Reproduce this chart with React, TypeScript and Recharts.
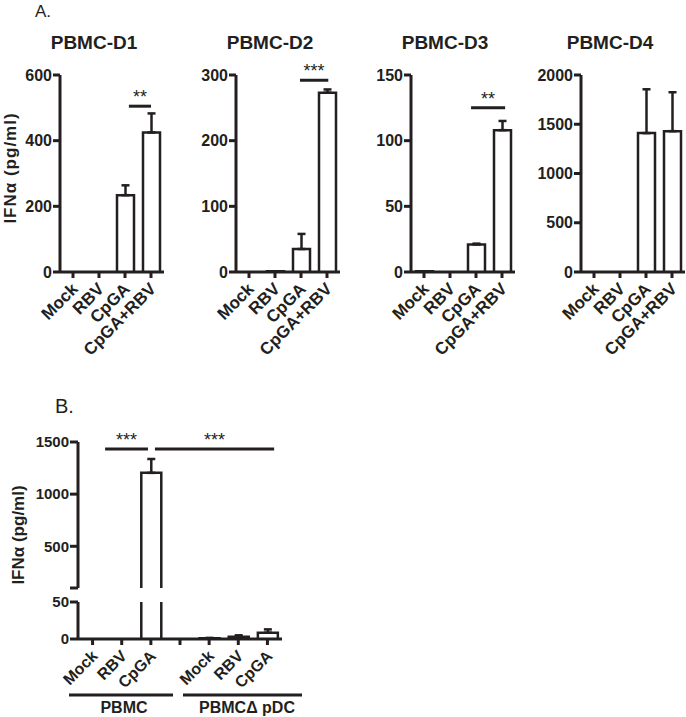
import React from 'react';
import { BarChart, Bar, XAxis, YAxis, ErrorBar, ReferenceLine, Label } from 'recharts';

// ---------------- DATA ----------------
const categoriesA = ['Mock', 'RBV', 'CpGA', 'CpGA+RBV'];
const panelTitles = ['PBMC-D1', 'PBMC-D2', 'PBMC-D3', 'PBMC-D4'];

const d1Values = [0, 0, 234, 425];
const d1Errors = [0, 0, 30, 58];
const d1Ticks = [0, 200, 400, 600];

const d2Values = [0, 1, 35, 273];
const d2Errors = [0, 0, 23, 5];
const d2Ticks = [0, 100, 200, 300];

const d3Values = [0.6, 0, 21, 108];
const d3Errors = [0, 0, 0.6, 7];
const d3Ticks = [0, 50, 100, 150];

const d4Values = [0, 0, 1410, 1430];
const d4Errors = [0, 0, 445, 395];
const d4Ticks = [0, 500, 1000, 1500, 2000];

// significance bars: [from (category units), to (category units), level, stars]
const d1Sig = [[2.65, 3.5, 505, '**']];
const d2Sig = [[2.46, 3.55, 292, '***']];
const d3Sig = [[2.31, 3.62, 125, '**']];
const d4Sig: any[] = [];

const categoryIdsB = ['PBMC-Mock', 'PBMC-RBV', 'PBMC-CpGA', 'gap', 'pDC-Mock', 'pDC-RBV', 'pDC-CpGA'];
const categoryLabelsB = ['Mock', 'RBV', 'CpGA', '', 'Mock', 'RBV', 'CpGA'];
const bValues = [0, 0, 1204, null, 1, 3, 8.5];
const bErrors = [0, 0, 133, 0, 0.5, 2, 4.5];
const bUpperTicks = [100, 500, 1000, 1500];
const bLowerTicks = [0, 50];
const bSig = [
  [0.93, 2.4, 1433, '***'],
  [2.64, 6.73, 1433, '***'],
];
const groupLabelsB = ['PBMC', 'PBMC\u0394 pDC'];

// ---------------- STYLE / LAYOUT ----------------
const W = 686;
const H = 717;
const FONT = '"Liberation Sans", Arial, Helvetica, sans-serif';
const INK = '#231f20';

const OpenBar = (p: any) => {
  const { x, y, width, height } = p;
  if (!height || height <= 0 || !width) return null;
  return (
    <path
      d={`M${x},${y + height}V${y}H${x + width}V${y + height}`}
      fill="#fff"
      stroke={INK}
      strokeWidth={2.5}
    />
  );
};

const RotTick = (p: any) => {
  const { x, y, payload, ids, labels, fontSize } = p;
  const text = ids ? labels[ids.indexOf(payload.value)] : payload.value;
  const px = x + 6;
  const py = y + 12;
  return (
    <text
      x={px}
      y={py}
      transform={`rotate(-45 ${px} ${py})`}
      textAnchor="end"
      fontFamily={FONT}
      fontSize={fontSize}
      fontWeight={700}
      fill={INK}
    >
      {text}
    </text>
  );
};

const YAXIS_W = 40;
const XAXIS_H = 30;

type PanelProps = {
  data: any[];
  ticks: number[];
  domain: [number, number];
  axisX: number;
  axisEnd: number;
  yTop: number;
  yBottom: number;
  sig: any[];
  barSize: number;
  hideX?: boolean;
  ids?: string[];
  labels?: string[];
  yFont: number;
  xFont: number;
  tickSize: number;
  hiddenTickValues?: number[];
};

const Panel = ({ data, ticks, domain, axisX, axisEnd, yTop, yBottom, sig, barSize, hideX, ids, labels, yFont, xFont, tickSize, hiddenTickValues }: PanelProps) => {
  const xh = hideX ? 0 : XAXIS_H;
  const margin = {
    top: yTop,
    left: axisX - YAXIS_W,
    right: W - axisEnd,
    bottom: H - yBottom - xh,
  };
  const rows = data.map((d, i) => ({ ...d, pos: i + 0.5 }));
  return (
    <div style={{ position: 'absolute', left: 0, top: 0 }}>
      <BarChart width={W} height={H} data={rows} margin={margin} barCategoryGap={0}>
        <XAxis
          dataKey="cat"
          type="category"
          hide={hideX}
          height={XAXIS_H}
          interval={0}
          tickSize={6}
          tickMargin={0}
          axisLine={{ stroke: INK, strokeWidth: 3 }}
          tickLine={{ stroke: INK, strokeWidth: 3 }}
          tick={(tp: any) => <RotTick {...tp} ids={ids} labels={labels} fontSize={xFont} />}
        />
        <XAxis xAxisId="num" dataKey="pos" type="number" domain={[0, data.length]} hide allowDataOverflow />
        <YAxis
          type="number"
          width={YAXIS_W}
          domain={domain}
          ticks={ticks}
          interval={0}
          allowDataOverflow
          tickSize={tickSize}
          tickMargin={1}
          axisLine={{ stroke: INK, strokeWidth: 3 }}
          tickLine={{ stroke: INK, strokeWidth: 3 }}
          tickFormatter={(v: number) => (hiddenTickValues && hiddenTickValues.includes(v) ? '' : String(v))}
          tick={{ fontSize: yFont, fontWeight: 700, fill: INK, fontFamily: FONT }}
        />
        <Bar dataKey="value" barSize={barSize} shape={OpenBar} isAnimationActive={false}>
          <ErrorBar dataKey="err" direction="y" width={4} stroke={INK} strokeWidth={2.5} />
        </Bar>
        {sig.map((s, i) => (
          <ReferenceLine
            key={i}
            xAxisId="num"
            segment={[{ x: s[0], y: s[2] }, { x: s[1], y: s[2] }]}
            stroke={INK}
            strokeWidth={3}
            ifOverflow="visible"
          >
            <Label value={s[3]} position="top" offset={3} fill={INK} fontSize={18} fontFamily={FONT} />
          </ReferenceLine>
        ))}
      </BarChart>
    </div>
  );
};

const buildA = (values: number[], errors: number[]) =>
  categoriesA.map((c, i) => ({ cat: c, value: values[i], err: errors[i] ? [0, errors[i]] : null }));

const panelsA = [
  { values: d1Values, errors: d1Errors, ticks: d1Ticks, sig: d1Sig },
  { values: d2Values, errors: d2Errors, ticks: d2Ticks, sig: d2Sig },
  { values: d3Values, errors: d3Errors, ticks: d3Ticks, sig: d3Sig },
  { values: d4Values, errors: d4Errors, ticks: d4Ticks, sig: d4Sig },
];
const panelAxisX = [60, 236, 411, 581];
const titleCenters = [94, 270, 445, 610];

const upperMin = bUpperTicks[0];
const upperMax = bUpperTicks[bUpperTicks.length - 1];
const lowerMax = bLowerTicks[bLowerTicks.length - 1];

const dataBUpper = categoryIdsB.map((c, i) => {
  const v = bValues[i];
  const show = v != null && v > upperMin;
  return { cat: c, value: show ? v : null, err: show && bErrors[i] ? [0, bErrors[i]] : null };
});
const dataBLower = categoryIdsB.map((c, i) => {
  const v = bValues[i];
  return { cat: c, value: v, err: v != null && v <= lowerMax && bErrors[i] ? [0, bErrors[i]] : null };
});

export default function App() {
  return (
    <div style={{ position: 'absolute', left: 0, top: 0, width: W, height: H, background: '#fff', overflow: 'hidden' }}>
      {panelsA.map((p, i) => (
        <Panel
          key={i}
          data={buildA(p.values, p.errors)}
          ticks={p.ticks}
          domain={[p.ticks[0], p.ticks[p.ticks.length - 1]]}
          axisX={panelAxisX[i]}
          axisEnd={panelAxisX[i] + 104}
          yTop={75}
          yBottom={272}
          sig={p.sig}
          barSize={17}
          yFont={16}
          xFont={17}
          tickSize={7}
        />
      ))}
      <Panel
        data={dataBUpper}
        ticks={bUpperTicks}
        domain={[upperMin, upperMax]}
        axisX={78}
        axisEnd={282}
        yTop={442}
        yBottom={588}
        sig={bSig}
        barSize={20}
        hideX
        yFont={15}
        xFont={16}
        tickSize={8}
        hiddenTickValues={[upperMin]}
      />
      <Panel
        data={dataBLower}
        ticks={bLowerTicks}
        domain={[0, lowerMax]}
        axisX={78}
        axisEnd={282}
        yTop={602}
        yBottom={639}
        sig={[]}
        barSize={20}
        ids={categoryIdsB}
        labels={categoryLabelsB}
        yFont={15}
        xFont={16}
        tickSize={8}
      />
      <svg width={W} height={H} style={{ position: 'absolute', left: 0, top: 0, pointerEvents: 'none' }}>
        <text x={35} y={17} fontFamily={FONT} fontSize={17} fill={INK}>A.</text>
        {panelTitles.map((t, i) => (
          <text key={t} x={titleCenters[i]} y={49} textAnchor="middle" fontFamily={FONT} fontSize={19} fontWeight={700} fill={INK}>
            {t}
          </text>
        ))}
        <text transform="translate(16,168) rotate(-90)" textAnchor="middle" fontFamily={FONT} fontSize={17} fontWeight={700} fill={INK} letterSpacing={1}>
          IFNα (pg/ml)
        </text>
        <text x={55} y={413} fontFamily={FONT} fontSize={20} fill={INK}>B.</text>
        <text transform="translate(24,535) rotate(-90)" textAnchor="middle" fontFamily={FONT} fontSize={17} fontWeight={700} fill={INK}>
          IFNα (pg/ml)
        </text>
        <line x1={69} x2={173} y1={695} y2={695} stroke={INK} strokeWidth={3} />
        <line x1={183} x2={302} y1={695} y2={695} stroke={INK} strokeWidth={3} />
        <text x={124} y={713} textAnchor="middle" fontFamily={FONT} fontSize={16} fontWeight={700} fill={INK}>{groupLabelsB[0]}</text>
        <text x={247} y={713} textAnchor="middle" fontFamily={FONT} fontSize={16} fontWeight={700} fill={INK}>{groupLabelsB[1]}</text>
      </svg>
    </div>
  );
}
